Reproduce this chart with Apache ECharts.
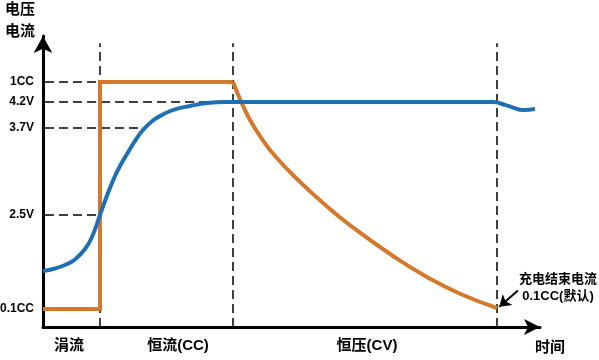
<!DOCTYPE html>
<html>
<head>
<meta charset="utf-8">
<script src="https://cdn.jsdelivr.net/npm/echarts@6/dist/echarts.min.js"></script>
<style>
html,body{margin:0;padding:0;background:#fff;}
#chart{width:599px;height:360px;}
</style>
</head>
<body>
<div id="chart"></div>
<script>
// ---- data ----
const levelLabels = ['0.1CC', '2.5V', '3.7V', '4.2V', '1CC'];
const levelValues = [6.06, 37.7, 67, 75.8, 82.5];
const levelDashEnd = [11.35, 11.35, 19.9, 33.3, 11.35];
const phaseBounds = [11.35, 37.85, 90.4];
const phaseNames = ['涓流', '恒流(CC)', '恒压(CV)'];
const currentStep = [[0, 6.06], [11.35, 6.06], [11.35, 82.5], [37.85, 82.5]];
const currentDecay = [[37.85, 82.5], [39.24, 76.8], [41.24, 69.7], [43.63, 63.3], [46.22, 57.6], [50.6, 49.85],
  [55.78, 41.76], [61.75, 33.51], [69.72, 23.91], [76.49, 16.84], [83.07, 11.2], [90.44, 6.4]];
const voltage = [[0, 18.86], [2.39, 19.7], [4.38, 20.88], [6.37, 22.74], [8.37, 26.27], [9.76, 30.31],
  [11.35, 37.72], [12.35, 42.44], [13.35, 46.82], [14.34, 50.86], [15.34, 54.23], [16.73, 58.27],
  [18.33, 62.65], [19.92, 66.35], [21.91, 69.55], [23.9, 71.57], [26.29, 73.26], [29.28, 74.44],
  [32.67, 75.45], [36.25, 75.78], [89.6, 75.8], [92.03, 74.8], [93.63, 73.9], [95.62, 73.1], [98.0, 73.4]];
const endNote = ['充电结束电流', '0.1CC(默认)'];
const endArrow = [[94.6, 12.3], [90.9, 6.8]];

const FONT = "'Liberation Sans','Noto Sans CJK SC',sans-serif";
const dash = { color: '#000', width: 1.5, type: [9, 5] };

const markData = [];
levelValues.forEach((v, i) => {
  markData.push([
    { coord: [0.4, v], label: { show: true, formatter: levelLabels[i] } },
    { coord: [levelDashEnd[i], v] }
  ]);
});
phaseBounds.forEach(x => {
  markData.push([
    { coord: [x, 0], label: { show: false } },
    { coord: [x, 95.6] }
  ]);
});

const chart = echarts.init(document.getElementById('chart'));
chart.setOption({
  animation: false,
  backgroundColor: '#fff',
  grid: { left: 43, right: 59, top: 36, bottom: 33 },
  xAxis: {
    type: 'value', min: 0, max: 99,
    axisLine: { show: true, lineStyle: { color: '#000', width: 3 }, symbol: ['none', 'arrow'], symbolSize: [12, 16] },
    axisTick: { show: false }, axisLabel: { show: false }, splitLine: { show: false }
  },
  yAxis: {
    type: 'value', min: 0, max: 98,
    axisLine: { show: true, lineStyle: { color: '#000', width: 3 }, symbol: ['none', 'arrow'], symbolSize: [14, 17] },
    axisTick: { show: false }, axisLabel: { show: false }, splitLine: { show: false }
  },
  series: [
    {
      type: 'line', data: [], z: 1, silent: true,
      markLine: {
        z: 1, silent: true, symbol: 'none', animation: false,
        lineStyle: dash,
        label: { show: true, position: 'start', distance: 11, color: '#000', fontWeight: 'bold', fontSize: 12, fontFamily: FONT },
        emphasis: { disabled: true },
        data: markData
      }
    },
    {
      type: 'line', data: currentStep, z: 6, showSymbol: false, silent: true,
      lineStyle: { color: '#d4782c', width: 4, join: 'miter', cap: 'butt' }
    },
    {
      type: 'line', data: currentDecay, z: 6, showSymbol: false, smooth: 0.5, silent: true,
      lineStyle: { color: '#d4782c', width: 4 }
    },
    {
      type: 'line', data: voltage, z: 7, showSymbol: false, smooth: 0.5, silent: true,
      lineStyle: { color: '#1f6fb3', width: 4 },
      markLine: {
        z: 8, silent: true, symbol: ['none', 'arrow'], symbolSize: 11, animation: false,
        lineStyle: { color: '#000', width: 2, type: 'solid' },
        label: { show: false },
        emphasis: { disabled: true },
        data: [[{ coord: endArrow[0] }, { coord: endArrow[1] }]]
      }
    }
  ],
  graphic: [
    { type: 'text', left: 5, top: 2, style: { text: '电压', font: 'bold 15px ' + FONT, fill: '#000' } },
    { type: 'text', left: 5, top: 24, style: { text: '电流', font: 'bold 15px ' + FONT, fill: '#000' } },
    { type: 'text', x: 69, y: 346, style: { text: phaseNames[0], font: 'bold 15px ' + FONT, fill: '#000', align: 'center', verticalAlign: 'middle' } },
    { type: 'text', x: 178, y: 346, style: { text: phaseNames[1], font: 'bold 15px ' + FONT, fill: '#000', align: 'center', verticalAlign: 'middle' } },
    { type: 'text', x: 367, y: 346, style: { text: phaseNames[2], font: 'bold 15px ' + FONT, fill: '#000', align: 'center', verticalAlign: 'middle' } },
    { type: 'text', x: 550, y: 348, style: { text: '时间', font: 'bold 15px ' + FONT, fill: '#000', align: 'center', verticalAlign: 'middle' } },
    { type: 'text', x: 558, y: 279, style: { text: endNote[0], font: 'bold 13px ' + FONT, fill: '#000', align: 'center', verticalAlign: 'middle' } },
    { type: 'text', x: 558, y: 296, style: { text: endNote[1], font: 'bold 13px ' + FONT, fill: '#000', align: 'center', verticalAlign: 'middle' } }
  ]
});
</script>
</body>
</html>
